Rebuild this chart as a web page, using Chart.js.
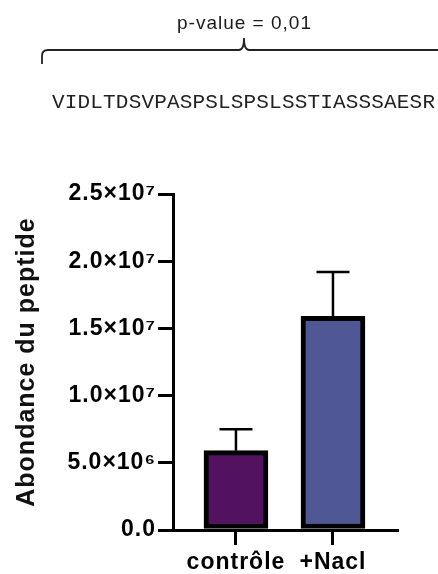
<!DOCTYPE html>
<html>
<head>
<meta charset="utf-8">
<script src="https://cdn.jsdelivr.net/npm/chart.js@4.4.1/dist/chart.umd.min.js"></script>
<style>
  body { margin: 0; background: #fff; }
  #wrap { position: relative; width: 438px; height: 574px; }
  #pval { position: absolute; left: 177px; top: 13px; font: 19px/19px "Liberation Sans", Arial, sans-serif; letter-spacing: 1px; color: #1a1a1a; white-space: nowrap; }
  #seq { position: absolute; left: 52px; top: 92px; font: 21px/21px "Liberation Mono", "Courier New", monospace; letter-spacing: 0.17px; color: #222; white-space: nowrap; }
</style>
</head>
<body>
<div id="wrap">
  <canvas id="peptideChart" width="438" height="574"></canvas>
  <div id="pval">p-value = 0,01</div>
  <div id="seq">VIDLTDSVPASPSLSPSLSSTIASSSAESR</div>
</div>
<script>
// valeurs
var conditions = ['contrôle', '+Nacl'];
var abondance = [5.9e6, 1.59e7];
var erreur = [1.6e6, 3.3e6];
var couleurs = ['#521260', '#4f5894'];
var yTicks = ['0.0', '5.0×10⁶', '1.0×10⁷', '1.5×10⁷', '2.0×10⁷', '2.5×10⁷'];

Chart.defaults.font.family = '"Liberation Sans", Arial, sans-serif';
Chart.defaults.color = '#000';

// the figure text is a bit wider than plain Arial
var spacing = {
  id: 'spacing',
  beforeUpdate: function(chart){ chart.ctx.letterSpacing = '1px'; },
  beforeDraw: function(chart){ chart.ctx.letterSpacing = '1px'; }
};

var errorBars = {
  id: 'errorBars',
  afterDatasetsDraw: function(chart){
    var ctx = chart.ctx;
    var y = chart.scales.y;
    var meta = chart.getDatasetMeta(0);
    ctx.save();
    ctx.strokeStyle = '#000';
    ctx.lineWidth = 2.5;
    meta.data.forEach(function(bar, i){
      var top = y.getPixelForValue(abondance[i] + erreur[i]);
      ctx.beginPath();
      ctx.moveTo(bar.x, bar.y);
      ctx.lineTo(bar.x, top);
      ctx.moveTo(bar.x - 16.5, top);
      ctx.lineTo(bar.x + 16.5, top);
      ctx.stroke();
    });
    ctx.restore();
  }
};

// accolade au-dessus de la sequence
var brace = {
  id: 'brace',
  afterDraw: function(chart){
    var ctx = chart.ctx;
    ctx.save();
    ctx.strokeStyle = '#222';
    ctx.lineWidth = 1.8;
    ctx.beginPath();
    ctx.moveTo(42, 64);
    ctx.lineTo(42, 56);
    ctx.quadraticCurveTo(42, 50, 48, 50);
    ctx.lineTo(239, 50);
    ctx.quadraticCurveTo(244, 50, 244, 38);
    ctx.quadraticCurveTo(244, 50, 249, 50);
    ctx.lineTo(440, 50);
    ctx.stroke();
    ctx.restore();
  }
};

var points = [];
for (var i = 0; i < conditions.length; i++) {
  points.push({x: i, y: abondance[i]});
}

var ctx = document.getElementById('peptideChart');
var chart = new Chart(ctx, {
  type: 'bar',
  data: {
    datasets: [{
      data: points,
      backgroundColor: couleurs,
      borderColor: '#000',
      borderWidth: 5,
      borderSkipped: false,
      barThickness: 64
    }]
  },
  options: {
    responsive: false,
    animation: false,
    layout: { padding: { top: 194, right: 41, bottom: 0, left: 0 } },
    plugins: { legend: { display: false }, tooltip: { enabled: false } },
    scales: {
      x: {
        type: 'linear',
        min: -0.649,
        max: 1.66,
        offset: false,
        grid: { offset: false, drawOnChartArea: false, tickLength: 15, lineWidth: 3, color: '#000' },
        border: { color: '#000', width: 3 },
        ticks: {
          stepSize: 1,
          includeBounds: false,
          padding: 4,
          font: { size: 23, weight: 'bold' },
          callback: function(value){ return conditions[value]; }
        },
        afterFit: function(scale){ scale.height = 44; }
      },
      y: {
        min: 0,
        max: 2.5e7,
        grid: { drawOnChartArea: false, tickLength: 15, lineWidth: 3, color: '#000' },
        border: { color: '#000', width: 3 },
        ticks: {
          stepSize: 5e6,
          padding: 2,
          font: { size: 23, weight: 'bold' },
          callback: function(value, index){ return yTicks[index]; }
        },
        title: {
          display: true,
          text: 'Abondance du peptide',
          color: '#111',
          padding: { top: 12, bottom: 0 },
          font: { size: 25, weight: 'bold' }
        },
        afterFit: function(scale){ scale.width = 173; }
      }
    }
  },
  plugins: [spacing, errorBars, brace]
});
</script>
</body>
</html>
